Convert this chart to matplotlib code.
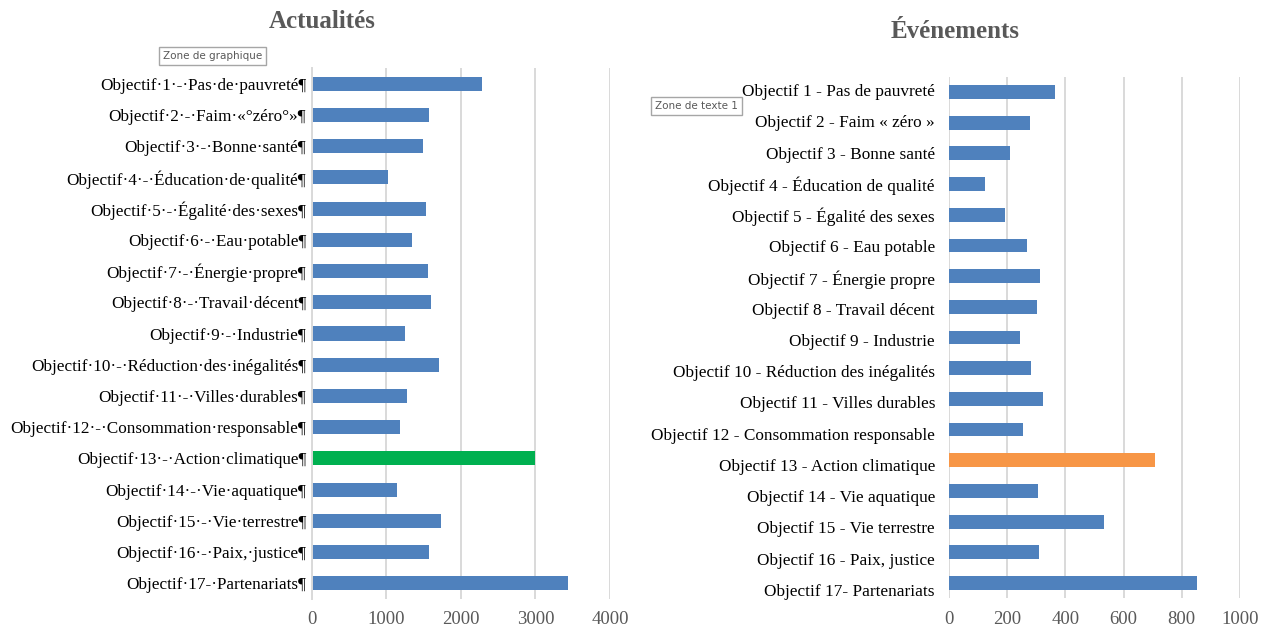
import matplotlib
matplotlib.use("Agg")
import matplotlib.pyplot as plt
import matplotlib.transforms as mtransforms

# --- data ---
labels_actu = [
    "Objectif·1·-·Pas·de·pauvreté¶",
    "Objectif·2·-·Faim·«°zéro°»¶",
    "Objectif·3·-·Bonne·santé¶",
    "Objectif·4·-·Éducation·de·qualité¶",
    "Objectif·5·-·Égalité·des·sexes¶",
    "Objectif·6·-·Eau·potable¶",
    "Objectif·7·-·Énergie·propre¶",
    "Objectif·8·-·Travail·décent¶",
    "Objectif·9·-·Industrie¶",
    "Objectif·10·-·Réduction·des·inégalités¶",
    "Objectif·11·-·Villes·durables¶",
    "Objectif·12·-·Consommation·responsable¶",
    "Objectif·13·-·Action·climatique¶",
    "Objectif·14·-·Vie·aquatique¶",
    "Objectif·15·-·Vie·terrestre¶",
    "Objectif·16·-·Paix,·justice¶",
    "Objectif·17-·Partenariats¶",
]
labels_even = [
    "Objectif 1 - Pas de pauvreté",
    "Objectif 2 - Faim « zéro »",
    "Objectif 3 - Bonne santé",
    "Objectif 4 - Éducation de qualité",
    "Objectif 5 - Égalité des sexes",
    "Objectif 6 - Eau potable",
    "Objectif 7 - Énergie propre",
    "Objectif 8 - Travail décent",
    "Objectif 9 - Industrie",
    "Objectif 10 - Réduction des inégalités",
    "Objectif 11 - Villes durables",
    "Objectif 12 - Consommation responsable",
    "Objectif 13 - Action climatique",
    "Objectif 14 - Vie aquatique",
    "Objectif 15 - Vie terrestre",
    "Objectif 16 - Paix, justice",
    "Objectif 17- Partenariats",
]
actualites = [2277, 1567, 1487, 1027, 1527, 1348, 1565, 1603, 1245,
              1707, 1277, 1190, 3000, 1138, 1731, 1568, 3442]
evenements = [366, 279, 211, 125, 192, 267, 312, 302, 245,
              282, 323, 255, 708, 307, 532, 311, 853]
highlight = 12  # Objectif 13

blue = "#4F81BD"
green = "#00B050"
orange = "#F79646"
grid_col = "#D9D9D9"
grey_txt = "#595959"
serif = ["Liberation Serif", "DejaVu Serif"]

W, H = 1261, 630
fig = plt.figure(figsize=(W / 100, H / 100), dpi=100)


def px_axes(x0, x1, y0, y1):
    # pixel box (top-left origin) -> figure fraction
    return fig.add_axes([x0 / W, 1 - y1 / H, (x1 - x0) / W, (y1 - y0) / H])


def style_axis(ax, xmax, step, pad):
    ax.set_xlim(0, xmax)
    ax.set_ylim(len(labels_actu) - 0.5, -0.5)
    ax.set_xticks(range(0, xmax + 1, step))
    ax.grid(axis="x", color=grid_col, lw=1.4)
    ax.set_axisbelow(True)
    for s in ax.spines.values():
        s.set_visible(False)
    ax.tick_params(axis="x", length=0, pad=pad, labelsize=13.5, labelcolor=grey_txt)
    for t in ax.get_xticklabels():
        t.set_family(serif)


ypos = list(range(len(labels_actu)))

# --- left: Actualités ---
ax1 = px_axes(311.7, 610, 68, 599)
cols1 = [green if i == highlight else blue for i in ypos]
ax1.barh(ypos, actualites, height=0.45, color=cols1)
style_axis(ax1, 4000, 1000, 8.5)
ax1.spines["left"].set_visible(True)
ax1.spines["left"].set_color(grid_col)
ax1.spines["left"].set_linewidth(1.4)
ax1.set_yticks(ypos)
ax1.set_yticklabels(labels_actu, family=serif, fontsize=12.3)
ax1.tick_params(axis="y", length=0, pad=4)
fig.text(322 / W, 1 - 22 / H, "Actualités", family=serif, fontsize=18,
         fontweight="bold", color=grey_txt, ha="center", va="center")

# --- right: Événements ---
ax2 = px_axes(948.8, 1240, 76.6, 598.4)
cols2 = [orange if i == highlight else blue for i in ypos]
ax2.barh(ypos, evenements, height=0.45, color=cols2)
style_axis(ax2, 1000, 200, 9)
ax2.set_yticks([])
fig.text(955 / W, 1 - 31 / H, "Événements", family=serif, fontsize=18,
         fontweight="bold", color=grey_txt, ha="center", va="center")

# labels of the right chart sit in a separate text box
axl = px_axes(500, 935, 76.4, 607.6)
axl.set_axis_off()
axl.set_ylim(len(labels_even) - 0.5, -0.5)
tr = mtransforms.blended_transform_factory(axl.transAxes, axl.transData)
for i, lab in enumerate(labels_even):
    axl.text(1.0, i, lab, transform=tr, ha="right", va="center",
             family=serif, fontsize=12.4)

# Office tooltips
tip = dict(boxstyle="square,pad=0.35", fc="white", ec="#A6A6A6", lw=1)
fig.text(163 / W, 1 - 56 / H, "Zone de graphique", fontsize=7.5,
         color=grey_txt, family="DejaVu Sans", va="center", bbox=tip)
fig.text(655 / W, 1 - 106 / H, "Zone de texte 1", fontsize=7.5,
         color=grey_txt, family="DejaVu Sans", va="center", bbox=tip)

fig.savefig("out.png", dpi=100, facecolor="white")
